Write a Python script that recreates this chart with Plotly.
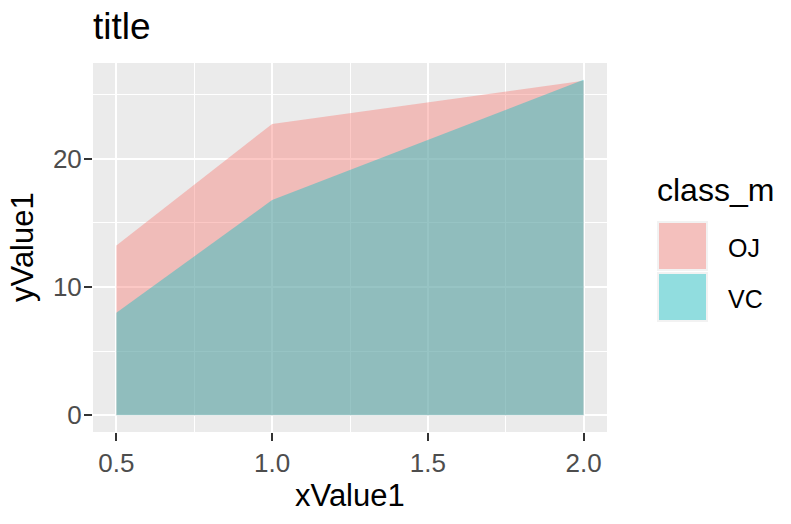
import plotly.graph_objects as go

# data (ToothGrowth mean length by dose and supplement)
x_dose = [0.5, 1.0, 2.0]
classes = ["OJ", "VC"]
oj_values = [13.23, 22.70, 26.06]
vc_values = [7.98, 16.77, 26.14]
x_ticks = [0.5, 1.0, 1.5, 2.0]
x_ticktext = ["0.5", "1.0", "1.5", "2.0"]
y_ticks = [0, 10, 20]

fills = {"OJ": "rgba(248,118,109,0.4)", "VC": "rgba(0,191,196,0.4)"}
series = {"OJ": oj_values, "VC": vc_values}

FONT = "Liberation Sans, Arial, sans-serif"
W, H = 791, 524
L, R, T, B = 93, 607, 63, 432

fig = go.Figure()
for c in classes:
    fig.add_trace(go.Scatter(
        x=x_dose, y=series[c], mode="lines", fill="tozeroy",
        fillcolor=fills[c], line=dict(width=0, color="rgba(0,0,0,0)"),
        name=c, showlegend=False, hoverinfo="x+y+name"))

def px(xp):
    return (xp - L) / (R - L)

def py(yp):
    return (B - yp) / (B - T)

shapes = []
annotations = []
# legend keys
key_tops = [221, 272]
for c, top in zip(classes, key_tops):
    shapes.append(dict(type="rect", xref="paper", yref="paper",
                       x0=px(657), x1=px(708), y0=py(top + 50), y1=py(top),
                       fillcolor="#F2F2F2", line=dict(width=0), layer="above"))
    shapes.append(dict(type="rect", xref="paper", yref="paper",
                       x0=px(659), x1=px(706), y0=py(top + 48), y1=py(top + 2),
                       fillcolor=fills[c], line=dict(width=0), layer="above"))
    annotations.append(dict(text=c, xref="paper", yref="paper",
                            x=px(726), y=py(top + 27), xanchor="left", yanchor="middle",
                            showarrow=False, font=dict(family=FONT, size=25, color="black")))
annotations.append(dict(text="class_m", xref="paper", yref="paper",
                        x=px(655), y=py(190), xanchor="left", yanchor="middle",
                        showarrow=False, font=dict(family=FONT, size=32, color="black")))
# axis titles
annotations.append(dict(text="xValue1", xref="paper", yref="paper",
                        x=0.5, y=py(495), xanchor="center", yanchor="middle",
                        showarrow=False, font=dict(family=FONT, size=31, color="black")))
annotations.append(dict(text="yValue1", xref="paper", yref="paper",
                        x=px(22), y=py(247), xanchor="center", yanchor="middle",
                        textangle=-90, showarrow=False,
                        font=dict(family=FONT, size=31, color="black")))

axis_common = dict(
    showgrid=True, gridcolor="white", gridwidth=2.2,
    minor=dict(showgrid=True, gridcolor="white", gridwidth=1.1),
    zeroline=False, showline=False,
    ticks="outside", ticklen=8, tickwidth=2, tickcolor="#333333",
    tickfont=dict(family=FONT, size=26, color="#4D4D4D"),
)

fig.update_layout(
    width=W, height=H,
    margin=dict(l=L, r=W - R, t=T, b=H - B, pad=0),
    paper_bgcolor="white", plot_bgcolor="#EBEBEB",
    title=dict(text="title", x=L / W, xref="container", xanchor="left",
               y=1 - 26 / H, yref="container", yanchor="middle",
               font=dict(family=FONT, size=37, color="black")),
    xaxis=dict(range=[0.425, 2.075], tickvals=x_ticks, ticktext=x_ticktext,
               **axis_common),
    yaxis=dict(range=[-1.307, 27.447], tickvals=y_ticks, ticktext=[str(v) for v in y_ticks],
               ticklabelstandoff=-3, **axis_common),
    shapes=shapes, annotations=annotations, showlegend=False,
)
fig.update_xaxes(minor=dict(tickvals=[0.75, 1.25, 1.75], ticks=""))
fig.update_yaxes(minor=dict(tickvals=[5, 15, 25], ticks=""))

fig.write_html("out.html")
